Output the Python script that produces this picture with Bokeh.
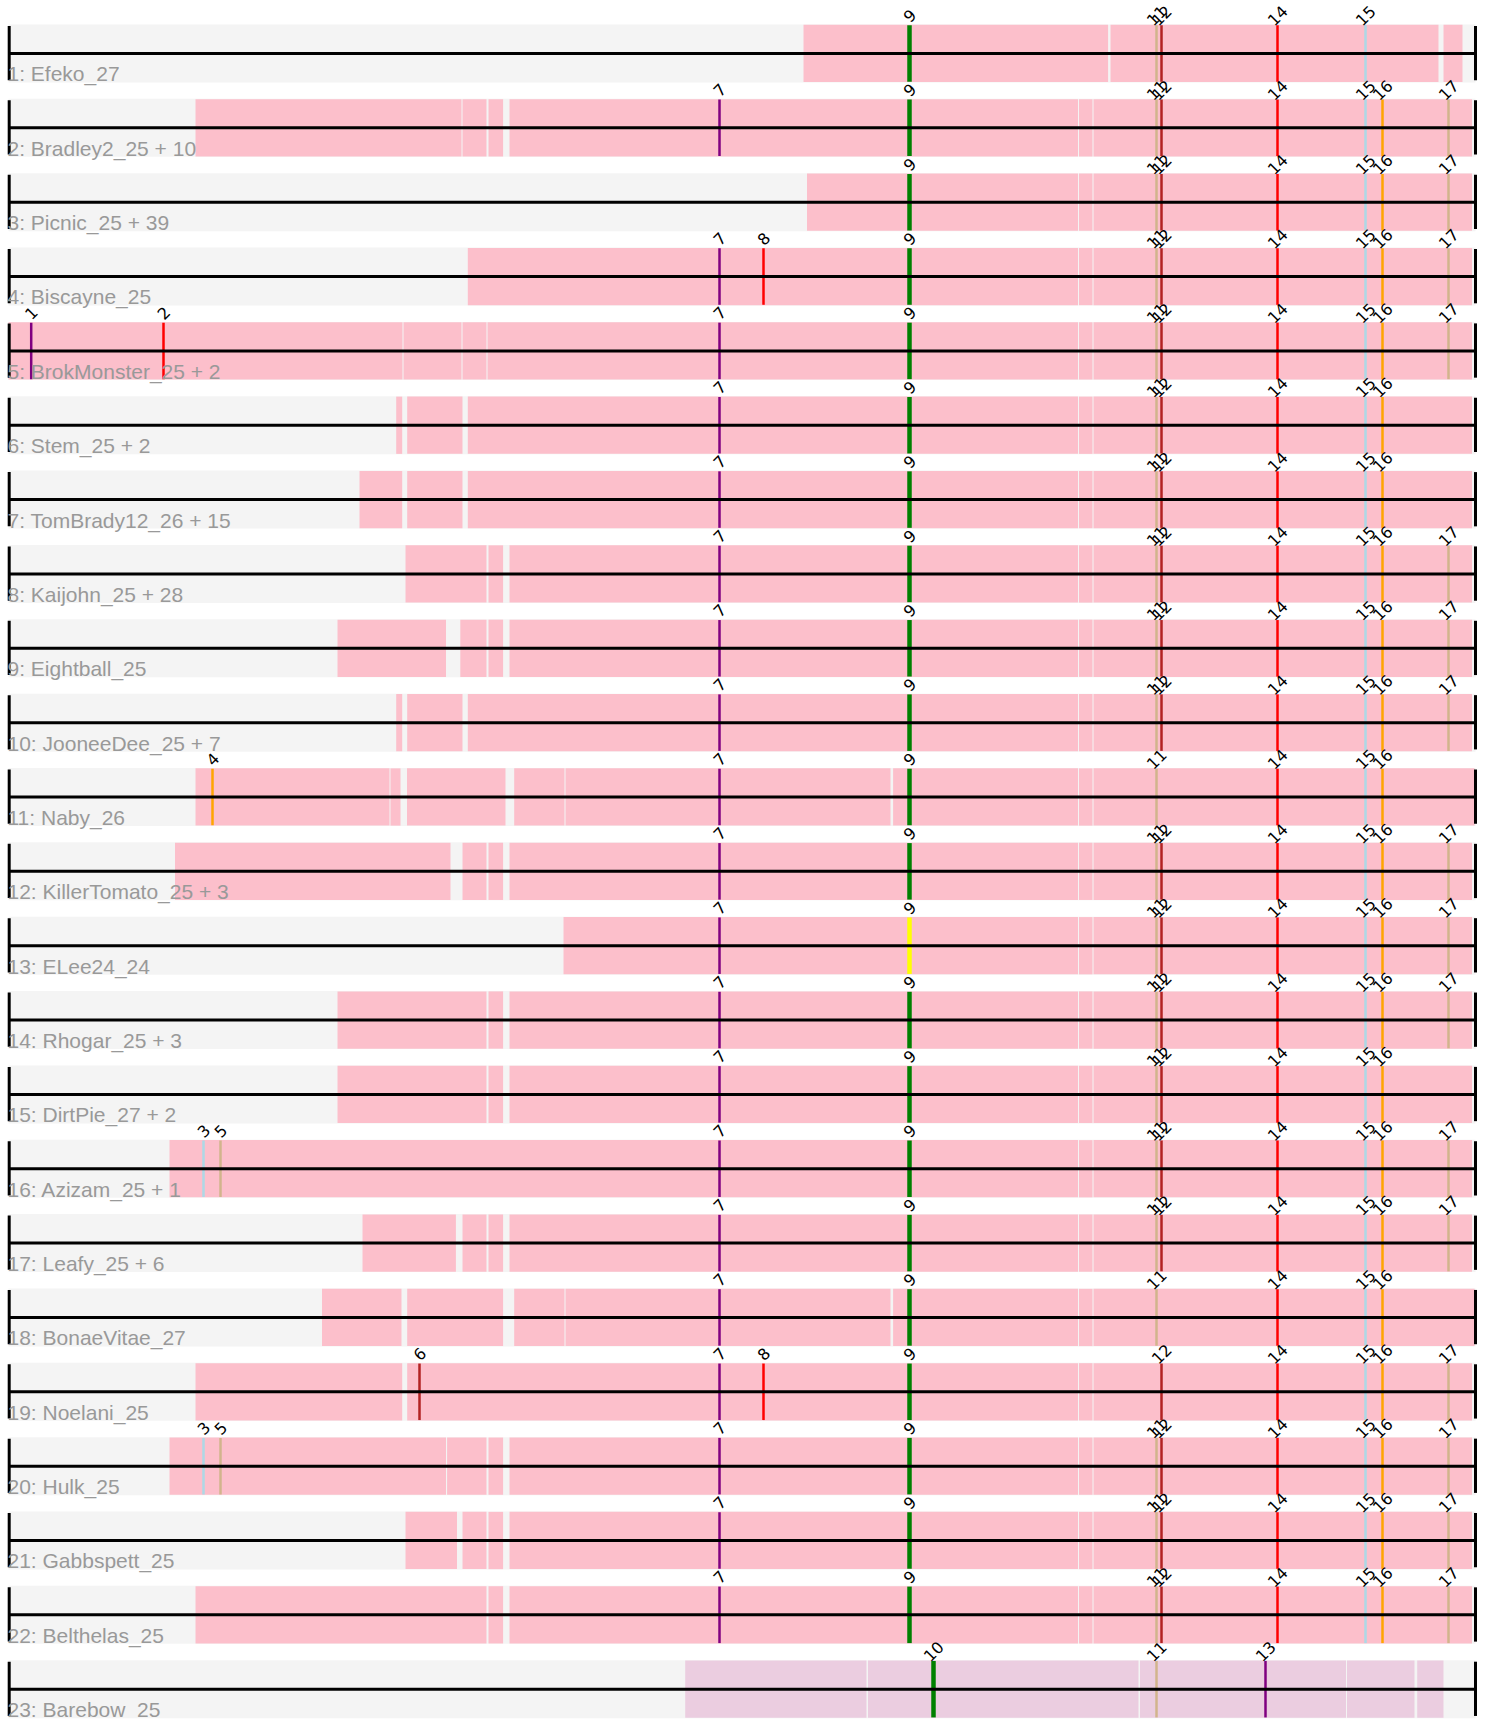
import math
from bokeh.plotting import figure
from bokeh.models import Range1d
from bokeh.core.properties import value
from bokeh.embed import file_html
from bokeh.resources import INLINE

# ---------------- data ----------------
ROW_LABELS = [
    "1: Efeko_27", "2: Bradley2_25 + 10", "3: Picnic_25 + 39", "4: Biscayne_25",
    "5: BrokMonster_25 + 2", "6: Stem_25 + 2", "7: TomBrady12_26 + 15",
    "8: Kaijohn_25 + 28", "9: Eightball_25", "10: JooneeDee_25 + 7", "11: Naby_26",
    "12: KillerTomato_25 + 3", "13: ELee24_24", "14: Rhogar_25 + 3",
    "15: DirtPie_27 + 2", "16: Azizam_25 + 1", "17: Leafy_25 + 6",
    "18: BonaeVitae_27", "19: Noelani_25", "20: Hulk_25", "21: Gabbspett_25",
    "22: Belthelas_25", "23: Barebow_25",
]

# marker ids, positions and colours
MARKER_IDS = [1, 2, 3, 4, 5, 6, 7, 8, 9, 10, 11, 12, 13, 14, 15, 16, 17]
MARKER_POS = [30.7, 163, 203, 212, 220, 419, 719, 763, 909, 933, 1156, 1161,
              1265, 1277, 1365, 1382, 1448]
MARKER_COLORS = ["#800080", "#ff0000", "#add8e6", "#ffa500", "#d2b48c", "#b22222",
                 "#800080", "#ff0000", "#008000", "#008000", "#d2b48c", "#b22222",
                 "#800080", "#ff0000", "#add8e6", "#ffa500", "#d2b48c"]

TAIL = [(509, 1077.5), (1078.5, 1092), (1093, 1471.5)]
ROW_SEGMENTS = [
    [(803, 1107.6), (1110, 1438), (1443, 1462)],
    [(195, 461), (462, 486), (488, 502.6)] + TAIL,
    [(806.5, 1077.5), (1078.5, 1092), (1093, 1471.5)],
    [(467.3, 1077.5), (1078.5, 1092), (1093, 1471.5)],
    [(8, 402), (403, 461), (462, 486), (487, 1077.5), (1078.5, 1092), (1093, 1471.5)],
    [(395.7, 401.7), (406.7, 462), (467.3, 1077.5), (1078.5, 1092), (1093, 1471.5)],
    [(359, 401.7), (406.7, 462), (467.3, 1077.5), (1078.5, 1092), (1093, 1471.5)],
    [(405, 486), (488, 502.6)] + TAIL,
    [(337, 445.5), (459.8, 486), (488, 502.6)] + TAIL,
    [(395.7, 401.7), (406.7, 462), (467.3, 1077.5), (1078.5, 1092), (1093, 1471.5)],
    [(195, 389), (390, 400), (406.5, 505), (513.7, 564), (565, 890), (892.6, 1077.5),
     (1078.5, 1092), (1093, 1474)],
    [(174.5, 450), (462, 486), (488, 502.6)] + TAIL,
    [(563, 1077.5), (1078.5, 1092), (1093, 1471.5)],
    [(337, 486), (488, 502.6)] + TAIL,
    [(337, 486), (488, 502.6)] + TAIL,
    [(169, 1077.5), (1078.5, 1092), (1093, 1471.5)],
    [(362, 455.4), (462, 486), (488, 502.6)] + TAIL,
    [(321.5, 401), (406.7, 502.6), (513.7, 564), (565, 890), (892.6, 1077.5),
     (1078.5, 1092), (1093, 1474)],
    [(195, 401.7), (406.7, 1077.5), (1078.5, 1092), (1093, 1471.5)],
    [(169, 445.5), (446.6, 486), (488, 502.6)] + TAIL,
    [(405, 456.5), (462, 486), (488, 502.6)] + TAIL,
    [(195, 486), (488, 502.6)] + TAIL,
    [(684.7, 866), (867.5, 1138), (1139.5, 1345.5), (1346.5, 1414), (1416.7, 1443)],
]
ROW_SEG_COLORS = ["#fcbfcb"] * 22 + ["#ebcde0"]

FULL = [7, 9, 11, 12, 14, 15, 16, 17]
NO17 = [7, 9, 11, 12, 14, 15, 16]
ROW_MARKERS = [
    [9, 11, 12, 14, 15],
    FULL,
    [9, 11, 12, 14, 15, 16, 17],
    [7, 8, 9, 11, 12, 14, 15, 16, 17],
    [1, 2] + FULL,
    NO17,
    NO17,
    FULL,
    FULL,
    FULL,
    [4, 7, 9, 11, 14, 15, 16],
    FULL,
    FULL,
    FULL,
    NO17,
    [3, 5] + FULL,
    FULL,
    [7, 9, 11, 14, 15, 16],
    [6, 7, 8, 9, 12, 14, 15, 16, 17],
    [3, 5] + FULL,
    FULL,
    FULL,
    [10, 11, 13],
]
# colour overrides (row index, marker id) -> colour
OVERRIDES = {(12, 9): "#ffff00"}

AXIS_START = 8
AXIS_END = 1475

# ---------------- layout ----------------
BAND_H = 0.780      # band height in row units
p = figure(width=1489, height=1720, output_backend="svg", toolbar_location=None,
           x_range=Range1d(0, 1489), y_range=Range1d(22.811, -0.3228),
           min_border=0)
p.axis.visible = False
p.grid.visible = False
p.outline_line_color = None

n = len(ROW_LABELS)
rows = list(range(n))

# gray background bands
p.quad(left=[AXIS_START] * n, right=[AXIS_END] * n, top=rows,
       bottom=[r + BAND_H for r in rows], fill_color="#f4f4f4", line_color=None)

# pink segments
sl, sr, st, sb, sc = [], [], [], [], []
for r, segs in enumerate(ROW_SEGMENTS):
    for a, b in segs:
        sl.append(a); sr.append(b); st.append(r + 0.005); sb.append(r + BAND_H - 0.005)
        sc.append(ROW_SEG_COLORS[r])
p.quad(left=sl, right=sr, top=st, bottom=sb, fill_color=sc, line_color=None)

# markers
pos = dict(zip(MARKER_IDS, MARKER_POS))
col = dict(zip(MARKER_IDS, MARKER_COLORS))
mx, my0, my1, mc, mw = [], [], [], [], []
tx, ty, tt = [], [], []
for r, ms in enumerate(ROW_MARKERS):
    for m in ms:
        mx.append(pos[m]); my0.append(r + 0.01); my1.append(r + BAND_H - 0.01)
        mc.append(OVERRIDES.get((r, m), col[m]))
        mw.append(4.5 if m in (9, 10) else 2.5)
        tx.append(pos[m]); ty.append(r - 0.12); tt.append(str(m))
p.segment(x0=mx, x1=mx, y0=my0, y1=my1, line_color=mc, line_width=mw)

p.text(x=tx, y=ty, text=tt, angle=math.pi / 4, text_align="center",
       text_baseline="middle", text_font=value("DejaVu Sans"),
       text_font_size="16px", text_color="black")

# axis lines and end ticks
mid = [r + BAND_H / 2 for r in rows]
p.segment(x0=[AXIS_START] * n, x1=[AXIS_END] * n, y0=mid, y1=mid,
          line_color="black", line_width=3)
p.segment(x0=[AXIS_START + 0.7] * n, x1=[AXIS_START + 0.7] * n,
          y0=[r + 0.02 for r in rows], y1=[r + BAND_H - 0.03 for r in rows],
          line_color="black", line_width=3)
p.segment(x0=[AXIS_END] * n, x1=[AXIS_END] * n,
          y0=[r + 0.02 for r in rows], y1=[r + BAND_H - 0.03 for r in rows],
          line_color="black", line_width=3)

# row labels
p.text(x=[7] * n, y=[r + 0.665 for r in rows], text=ROW_LABELS,
       text_align="left", text_baseline="alphabetic",
       text_font=value("Liberation Sans"), text_font_size="21px",
       text_color="#999999")

open("out.html", "w").write(file_html(p, INLINE))
